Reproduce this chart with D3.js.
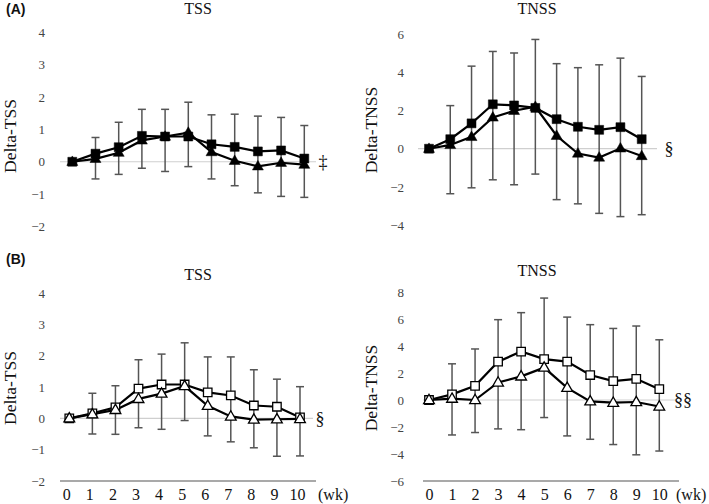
<!DOCTYPE html>
<html>
<head>
<meta charset="utf-8">
<script src="https://cdn.jsdelivr.net/npm/d3@7"></script>
<style>
  html, body { margin: 0; padding: 0; background: #fff; }
  svg { display: block; }
</style>
</head>
<body>
<svg id="chart" width="709" height="504"></svg>
<script>
// ---------- data ----------
const weeks = [0, 1, 2, 3, 4, 5, 6, 7, 8, 9, 10];
const weekLabels = ["0", "1", "2", "3", "4", "5", "6", "7", "8", "9", "10"];

// (A) TSS
const aTssSquare   = [0, 0.25, 0.45, 0.80, 0.78, 0.78, 0.54, 0.46, 0.32, 0.35, 0.10];
const aTssTriangle = [0, 0.09, 0.28, 0.66, 0.78, 0.90, 0.30, 0.03, -0.14, -0.03, -0.09];
const aTssErrHigh  = [null, 0.75, 1.22, 1.62, 1.62, 1.84, 1.45, 1.47, 1.41, 1.37, 1.12];
const aTssErrLow   = [null, -0.53, -0.39, -0.20, -0.30, -0.15, -0.53, -0.74, -0.96, -1.07, -1.10];
const aTssTicks    = [-2, -1, 0, 1, 2, 3, 4];

// (A) TNSS
const aTnssSquare   = [0, 0.50, 1.33, 2.33, 2.27, 2.14, 1.55, 1.15, 0.99, 1.13, 0.50];
const aTnssTriangle = [0, 0.20, 0.62, 1.64, 1.99, 2.20, 0.68, -0.25, -0.46, 0.02, -0.38];
const aTnssErrHigh  = [null, 2.26, 4.33, 5.10, 5.02, 5.73, 4.46, 4.25, 4.40, 4.75, 3.79];
const aTnssErrLow   = [null, -2.36, -2.05, -1.63, -1.89, -1.33, -2.67, -2.89, -3.39, -3.56, -3.46];
const aTnssTicks    = [-4, -2, 0, 2, 4, 6];

// (B) TSS
const bTssSquare   = [0, 0.16, 0.35, 0.95, 1.08, 1.08, 0.83, 0.73, 0.41, 0.37, 0.03];
const bTssTriangle = [0, 0.13, 0.27, 0.62, 0.79, 1.03, 0.40, 0.06, -0.04, -0.03, -0.02];
const bTssErrHigh  = [null, 0.80, 1.04, 1.87, 2.05, 2.41, 1.96, 1.96, 1.55, 1.25, 1.01];
const bTssErrLow   = [null, -0.50, -0.51, -0.30, -0.35, -0.07, -0.56, -0.75, -0.94, -1.21, -1.20];
const bTssTicks    = [-2, -1, 0, 1, 2, 3, 4];

// (B) TNSS
const bTnssSquare   = [0, 0.42, 1.05, 2.84, 3.59, 3.03, 2.84, 1.85, 1.40, 1.57, 0.80];
const bTnssTriangle = [0, 0.10, 0.00, 1.30, 1.75, 2.40, 0.90, -0.10, -0.20, -0.15, -0.48];
const bTnssErrHigh  = [null, 2.68, 3.78, 5.95, 6.47, 7.55, 6.14, 5.58, 5.30, 5.48, 4.46];
const bTnssErrLow   = [null, -2.59, -2.41, -2.14, -2.20, -1.30, -2.66, -2.91, -3.30, -4.06, -3.78];
const bTnssTicks    = [-6, -4, -2, 0, 2, 4, 6, 8];

// ---------- drawing ----------
const svg = d3.select("#chart");
const serif = "'Liberation Serif', 'DejaVu Serif', serif";
const fmt = d => d < 0 ? "\u2212" + Math.abs(d) : String(d);

function panel(cfg) {
  const g = svg.append("g");
  const x = d3.scaleLinear().domain([0, 10]).range([cfg.x0, cfg.x1]);
  const y = d3.scaleLinear().domain(cfg.domain).range([cfg.yBottom, cfg.yTop]);

  // y tick labels (axis with no line)
  const yAxis = g.append("g")
    .attr("transform", `translate(${cfg.tickX},0)`)
    .call(d3.axisLeft(y).tickValues(cfg.ticks).tickFormat(fmt).tickSize(0).tickPadding(0));
  yAxis.select(".domain").remove();
  yAxis.selectAll("text")
    .attr("font-family", serif).attr("font-size", 13).attr("fill", "#444");

  // zero line
  g.append("line")
    .attr("x1", cfg.zx0).attr("x2", cfg.zx1)
    .attr("y1", y(0)).attr("y2", y(0))
    .attr("stroke", "#cfcfcf").attr("stroke-width", 1.2);

  // x axis (only bottom panels)
  if (cfg.showX) {
    const xa = g.append("g")
      .attr("transform", `translate(0,${y(cfg.domain[0])})`)
      .call(d3.axisBottom(x).tickValues(weeks).tickFormat((d, i) => weekLabels[i]).tickSize(0).tickPadding(7.5));
    xa.select(".domain").remove();
    xa.append("line").attr("x1", cfg.zx0).attr("x2", cfg.zx1 + 3)
      .attr("y1", 0).attr("y2", 0).attr("stroke", "#555").attr("stroke-width", 1.2);
    xa.selectAll(".tick text")
      .attr("font-family", serif).attr("font-size", 16).attr("fill", "#111")
      .attr("dx", cfg.labelShift || 0);
    g.append("text")
      .attr("x", cfg.wkX).attr("y", y(cfg.domain[0]) + 18.5)
      .attr("font-family", serif).attr("font-size", 16).attr("fill", "#111")
      .text("(wk)");
  }

  // y label
  g.append("text")
    .attr("transform", `translate(${cfg.labelX},${cfg.labelY}) rotate(-90)`)
    .attr("text-anchor", "middle")
    .attr("font-family", serif).attr("font-size", 17.5).attr("fill", "#111")
    .text(cfg.yLabel);

  // title
  g.append("text")
    .attr("x", cfg.titleX).attr("y", cfg.titleY)
    .attr("text-anchor", "middle")
    .attr("font-family", serif).attr("font-size", 16).attr("fill", "#111")
    .text(cfg.title);

  // error bars
  const eb = g.append("g").attr("stroke", "#555").attr("stroke-width", 1.5);
  weeks.forEach((w, i) => {
    if (cfg.hi[i] == null) return;
    const cx = x(w);
    eb.append("line").attr("x1", cx).attr("x2", cx).attr("y1", y(cfg.hi[i])).attr("y2", y(cfg.lo[i]));
    eb.append("line").attr("x1", cx - 4).attr("x2", cx + 4).attr("y1", y(cfg.hi[i])).attr("y2", y(cfg.hi[i]));
    eb.append("line").attr("x1", cx - 4).attr("x2", cx + 4).attr("y1", y(cfg.lo[i])).attr("y2", y(cfg.lo[i]));
  });

  const line = d3.line().x((d, i) => x(weeks[i])).y(d => y(d));
  const series = [
    { vals: cfg.sq, sym: d3.symbolSquare, size: cfg.open ? 72 : 80 },
    { vals: cfg.tri, sym: d3.symbolTriangle, size: cfg.open ? 50 : 52 }
  ];
  const order = cfg.open ? [series[0], series[1]] : [series[1], series[0]];
  order.forEach(s => {
    g.append("path").datum(s.vals).attr("d", line)
      .attr("fill", "none").attr("stroke", "#000").attr("stroke-width", 2.2);
  });
  order.forEach(s => {
    g.append("g").selectAll("path").data(s.vals).join("path")
      .attr("transform", (d, i) => `translate(${x(weeks[i])},${y(d) + (s.sym === d3.symbolTriangle ? 0.5 : 0)})`)
      .attr("d", d3.symbol().type(s.sym).size(s.size))
      .attr("fill", cfg.open ? "#fff" : "#000")
      .attr("stroke", "#000").attr("stroke-width", cfg.open ? 1.3 : 0.5);
  });

  // annotation
  g.append("text")
    .attr("x", cfg.noteX).attr("y", y(0))
    .attr("dy", "0.35em")
    .attr("text-anchor", "middle")
    .attr("font-family", serif).attr("font-size", cfg.noteSize || 18).attr("fill", "#111")
    .text(cfg.note);
}

panel({ x0: 72.3, x1: 304.3, domain: [-2, 4], yBottom: 226.5, yTop: 32.3, ticks: aTssTicks,
  tickX: 45, zx0: 60, zx1: 316, showX: false, labelX: 16, labelY: 136, yLabel: "Delta-TSS",
  titleX: 198, titleY: 14, title: "TSS", hi: aTssErrHigh, lo: aTssErrLow,
  sq: aTssSquare, tri: aTssTriangle, open: false, noteX: 323, note: "\u2021" });

panel({ x0: 429, x1: 641.7, domain: [-4, 6], yBottom: 225, yTop: 34.3, ticks: aTnssTicks,
  tickX: 404, zx0: 418, zx1: 657, showX: false, labelX: 377, labelY: 130, yLabel: "Delta-TNSS",
  titleX: 537, titleY: 14, title: "TNSS", hi: aTnssErrHigh, lo: aTnssErrLow,
  sq: aTnssSquare, tri: aTnssTriangle, open: false, noteX: 669, note: "\u00a7" });

panel({ x0: 69.3, x1: 300, domain: [-2, 4], yBottom: 481, yTop: 293, ticks: bTssTicks,
  tickX: 45, zx0: 60, zx1: 313, showX: true, labelShift: -3, wkX: 318, labelX: 16, labelY: 388, yLabel: "Delta-TSS",
  titleX: 198, titleY: 280, title: "TSS", hi: bTssErrHigh, lo: bTssErrLow,
  sq: bTssSquare, tri: bTssTriangle, open: true, noteX: 320, note: "\u00a7" });

panel({ x0: 429, x1: 659.3, domain: [-6, 8], yBottom: 481, yTop: 292, ticks: bTnssTicks,
  tickX: 404, zx0: 423, zx1: 676, showX: true, labelShift: 0, wkX: 676, labelX: 377, labelY: 388, yLabel: "Delta-TNSS",
  titleX: 537, titleY: 276, title: "TNSS", hi: bTnssErrHigh, lo: bTnssErrLow,
  sq: bTnssSquare, tri: bTnssTriangle, open: true, noteX: 683, note: "\u00a7\u00a7" });

// panel letters
svg.append("text").attr("x", 6).attr("y", 14)
  .attr("font-family", "'Liberation Sans', Arial, sans-serif").attr("font-weight", "bold")
  .attr("font-size", 14).attr("fill", "#111").text("(A)");
svg.append("text").attr("x", 6).attr("y", 264)
  .attr("font-family", "'Liberation Sans', Arial, sans-serif").attr("font-weight", "bold")
  .attr("font-size", 14).attr("fill", "#111").text("(B)");
</script>
</body>
</html>
